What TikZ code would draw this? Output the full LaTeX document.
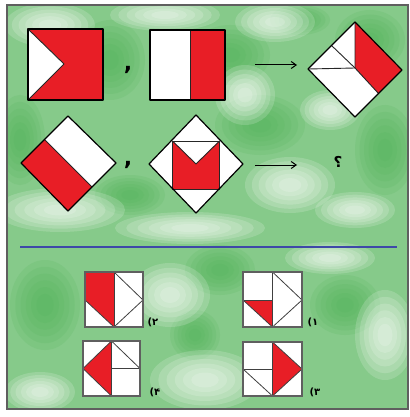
\documentclass[tikz,border=0pt]{standalone}
\usepackage{fontspec}
\newfontfamily\digfont{DejaVu Sans}
\newfontfamily\arabicfont[Script=Arabic]{DejaVu Sans}
\usetikzlibrary{arrows.meta}
\definecolor{bgreen}{RGB}{134,202,138}
\definecolor{dgreen}{RGB}{82,180,90}
\definecolor{pred}{RGB}{232,30,38}
\definecolor{pblue}{RGB}{62,72,168}
\definecolor{framegray}{RGB}{95,95,95}
\newcommand{\softblob}[5]{%
  \foreach \s in {1,0.85,0.7,0.55,0.4,0.25}{%
    \fill[#5,opacity=0.17] (#1,#2) ellipse [x radius=\s*#3, y radius=\s*#4];}}
\tikzset{
  outline/.style={draw=black,line width=1.2pt,line join=round},
  redfill/.style={fill=pred},
  whitefill/.style={fill=white},
  inner/.style={draw=black!85,line width=0.9pt,line join=round},
  optbox/.style={draw=framegray,line width=1.5pt,fill=white},
  optline/.style={draw=black!75,line width=0.8pt},
  arr/.style={-{Straight Barb[length=5pt,width=7pt]},line width=1pt},
  lab/.style={font=\digfont\bfseries\fontsize{10}{12}\selectfont,inner sep=0pt},
  sep/.style={font=\digfont\bfseries\fontsize{22}{24}\selectfont,inner sep=0pt}
}
\begin{document}
\begin{tikzpicture}[x=1pt,y=-1pt]
\useasboundingbox (0,0) rectangle (409,417);
\fill[white] (0,0) rectangle (409,417);
% background
\begin{scope}
\clip (7,5) rectangle (408,409);
\fill[bgreen] (7,5) rectangle (408,409);
\softblob{110}{60}{35}{40}{dgreen}
\softblob{230}{55}{40}{30}{dgreen}
\softblob{370}{40}{35}{30}{dgreen}
\softblob{20}{140}{25}{45}{dgreen}
\softblob{130}{195}{35}{20}{dgreen}
\softblob{385}{150}{30}{45}{dgreen}
\softblob{260}{125}{45}{30}{dgreen}
\softblob{45}{305}{35}{45}{dgreen}
\softblob{220}{270}{35}{25}{dgreen}
\softblob{345}{305}{35}{30}{dgreen}
\softblob{195}{335}{25}{25}{dgreen}
\softblob{300}{20}{30}{15}{dgreen}
\softblob{50}{25}{45}{22}{white}
\softblob{165}{15}{55}{16}{white}
\softblob{275}{22}{40}{20}{white}
\softblob{245}{95}{30}{30}{white}
\softblob{60}{210}{65}{22}{white}
\softblob{290}{185}{45}{28}{white}
\softblob{355}{210}{40}{18}{white}
\softblob{190}{228}{75}{16}{white}
\softblob{170}{295}{40}{32}{white}
\softblob{205}{380}{55}{30}{white}
\softblob{330}{258}{45}{16}{white}
\softblob{40}{392}{35}{20}{white}
\softblob{385}{335}{30}{45}{white}
\softblob{330}{110}{30}{20}{white}
\end{scope}
\draw[framegray,line width=1.3pt] (7,5) rectangle (408,409);

% ---- row 1 ----
% figure 1
\coordinate (f1a) at (28,29); \coordinate (f1b) at (103,29);
\coordinate (f1c) at (103,100); \coordinate (f1d) at (28,100);
\coordinate (f1m) at (64,64);
\fill[redfill] (f1a) rectangle (f1c);
\fill[whitefill] (f1a) -- (f1m) -- (f1d) -- cycle;
\draw[inner] (f1a) -- (f1m) -- (f1d);
\draw[outline] (f1a) rectangle (f1c);
\node[sep] (c1) at (128,70) {,};
% figure 2
\fill[whitefill] (150,30) rectangle (190,100);
\fill[redfill] (190,30) rectangle (225,100);
\draw[inner] (190,30) -- (190,100);
\draw[outline] (150,30) rectangle (225,100);
% arrow 1
\coordinate (a1s) at (255,65); \coordinate (a1e) at (297,65);
\draw[arr] (a1s) -- (a1e);
% figure 3
\coordinate (T3) at (355,22); \coordinate (R3) at (402,70);
\coordinate (B3) at (355,117); \coordinate (L3) at (308,69);
\coordinate (C3) at (355,68); \coordinate (P3) at (331.5,45.5);
\coordinate (M3) at (378.5,93.5);
\fill[whitefill] (T3) -- (R3) -- (B3) -- (L3) -- cycle;
\fill[redfill] (T3) -- (R3) -- (M3) -- (C3) -- cycle;
\draw[inner] (L3) -- (C3) -- (T3);
\draw[inner] (P3) -- (C3) -- (M3);
\draw[outline] (T3) -- (R3) -- (B3) -- (L3) -- cycle;

% ---- row 2 ----
% figure 4
\coordinate (T4) at (68,116); \coordinate (R4) at (116,163);
\coordinate (B4) at (68,211); \coordinate (L4) at (21,163);
\coordinate (P4) at (44.5,139.5); \coordinate (M4) at (92,187);
\fill[whitefill] (T4) -- (R4) -- (B4) -- (L4) -- cycle;
\fill[redfill] (L4) -- (P4) -- (M4) -- (B4) -- cycle;
\draw[inner] (P4) -- (M4);
\draw[outline] (T4) -- (R4) -- (B4) -- (L4) -- cycle;
\node[sep] (c2) at (128,165) {,};
% figure 5
\coordinate (T5) at (196,115); \coordinate (R5) at (243,164);
\coordinate (B5) at (196,213); \coordinate (L5) at (149,164);
\coordinate (q1) at (172.5,141); \coordinate (q2) at (219.5,141);
\coordinate (q3) at (219.5,189); \coordinate (q4) at (172.5,189);
\coordinate (V5) at (196,164);
\fill[whitefill] (T5) -- (R5) -- (B5) -- (L5) -- cycle;
\fill[redfill] (q1) -- (V5) -- (q2) -- (q3) -- (q4) -- cycle;
\draw[inner] (q1) -- (V5) -- (q2);
\draw[inner] (q1) rectangle (q3);
\draw[outline] (T5) -- (R5) -- (B5) -- (L5) -- cycle;
% arrow 2
\coordinate (a2s) at (255,165); \coordinate (a2e) at (297,165);
\draw[arr] (a2s) -- (a2e);
\node[font=\arabicfont\bfseries\fontsize{15}{17}\selectfont,inner sep=0pt] (qm) at (338,162) {؟};

% separator
\coordinate (s1) at (20,247); \coordinate (s2) at (397,247);
\draw[pblue,line width=1.6pt] (s1) -- (s2);

% ---- options ----
% option 2
\draw[optbox] (85,272) rectangle (143,327);
\fill[redfill] (85,272) -- (114,272) -- (114,327) -- (85,300) -- cycle;
\draw[optline] (114,272) -- (114,327);
\draw[optline] (85,300) -- (114,327);
\draw[optline] (114,272) -- (143,300) -- (114,327);
\draw[draw=framegray,line width=1.5pt] (85,272) rectangle (143,327);
\node[lab] (l2) at (153,322) {(۲};
% option 4
\draw[optbox] (83,341) rectangle (140,396);
\fill[redfill] (111.5,341) -- (83,368.5) -- (111.5,396) -- cycle;
\draw[optline] (111.5,341) -- (111.5,396);
\draw[optline] (111.5,341) -- (83,368.5) -- (111.5,396);
\draw[optline] (111.5,341) -- (140,368.5);
\draw[optline] (111.5,368.5) -- (140,368.5);
\draw[draw=framegray,line width=1.5pt] (83,341) rectangle (140,396);
\node[lab] (l4) at (155,392) {(۴};
% option 1
\draw[optbox] (243,272) rectangle (302,327);
\fill[redfill] (243,300) -- (272.5,300) -- (272.5,327) -- cycle;
\draw[optline] (272.5,272) -- (272.5,327);
\draw[optline] (243,300) -- (272.5,300);
\draw[optline] (243,300) -- (272.5,327);
\draw[optline] (272.5,272) -- (302,300) -- (272.5,327);
\draw[draw=framegray,line width=1.5pt] (243,272) rectangle (302,327);
\node[lab] (l1) at (313,322) {(۱};
% option 3
\draw[optbox] (243,342) rectangle (302,396);
\fill[redfill] (272.5,342) -- (302,369) -- (272.5,396) -- cycle;
\draw[optline] (272.5,342) -- (272.5,396);
\draw[optline] (243,369) -- (272.5,369);
\draw[optline] (243,369) -- (272.5,396);
\draw[optline] (272.5,342) -- (302,369) -- (272.5,396);
\draw[draw=framegray,line width=1.5pt] (243,342) rectangle (302,396);
\node[lab] (l3) at (315,392) {(۳};
\end{tikzpicture}
\end{document}
